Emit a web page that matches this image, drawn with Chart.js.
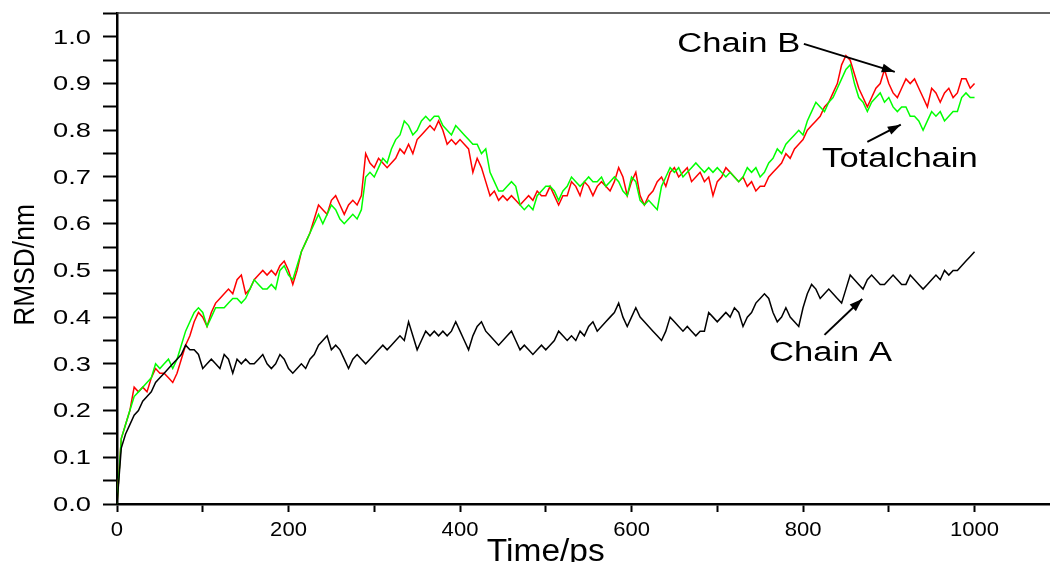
<!DOCTYPE html>
<html><head><meta charset="utf-8">
<script src="https://cdn.jsdelivr.net/npm/chart.js@4/dist/chart.umd.min.js"></script>
<style>html,body{margin:0;padding:0;background:#fff;overflow:hidden}#wrap{width:1050px;height:562px;position:relative}</style>
</head><body><div id="wrap"><canvas id="c" width="1050" height="562"></canvas></div>
<script>
const timePs = [
0,5,10,15,20,25,30,35,40,45,50,55,60,65,70,75,80,85,90,95,
100,105,110,115,120,125,130,135,140,145,150,155,160,165,170,175,180,185,190,195,
200,205,210,215,220,225,230,235,240,245,250,255,260,265,270,275,280,285,290,295,
300,305,310,315,320,325,330,335,340,345,350,355,360,365,370,375,380,385,390,395,
400,405,410,415,420,425,430,435,440,445,450,455,460,465,470,475,480,485,490,495,
500,505,510,515,520,525,530,535,540,545,550,555,560,565,570,575,580,585,590,595,
600,605,610,615,620,625,630,635,640,645,650,655,660,665,670,675,680,685,690,695,
700,705,710,715,720,725,730,735,740,745,750,755,760,765,770,775,780,785,790,795,
800,805,810,815,820,825,830,835,840,845,850,855,860,865,870,875,880,885,890,895,
900,905,910,915,920,925,930,935,940,945,950,955,960,965,970,975,980,985,990,995,
1000];
const chainA = [
0.00,0.12,0.15,0.17,0.19,0.20,0.22,0.23,0.24,0.26,0.27,0.28,0.29,0.30,0.31,0.32,0.34,0.33,0.33,0.32,
0.29,0.30,0.31,0.30,0.29,0.32,0.31,0.28,0.31,0.30,0.31,0.30,0.30,0.31,0.32,0.30,0.29,0.30,0.32,0.31,
0.29,0.28,0.29,0.30,0.29,0.31,0.32,0.34,0.35,0.36,0.33,0.34,0.33,0.31,0.29,0.31,0.32,0.31,0.30,0.31,
0.32,0.33,0.34,0.33,0.34,0.35,0.36,0.35,0.39,0.36,0.33,0.35,0.37,0.36,0.37,0.36,0.37,0.36,0.37,0.39,
0.37,0.35,0.33,0.36,0.38,0.39,0.37,0.36,0.35,0.34,0.35,0.36,0.37,0.35,0.33,0.34,0.33,0.32,0.33,0.34,
0.33,0.34,0.35,0.37,0.36,0.35,0.36,0.35,0.37,0.36,0.38,0.39,0.37,0.38,0.39,0.40,0.41,0.43,0.40,0.38,
0.40,0.42,0.40,0.39,0.38,0.37,0.36,0.35,0.37,0.40,0.39,0.38,0.37,0.38,0.37,0.36,0.37,0.37,0.41,0.40,
0.39,0.40,0.41,0.40,0.42,0.41,0.38,0.40,0.41,0.43,0.44,0.45,0.44,0.41,0.39,0.40,0.42,0.40,0.39,0.38,
0.42,0.45,0.47,0.46,0.44,0.45,0.46,0.45,0.44,0.43,0.46,0.49,0.48,0.47,0.46,0.48,0.49,0.48,0.47,0.47,
0.48,0.49,0.48,0.47,0.47,0.49,0.48,0.47,0.46,0.47,0.48,0.49,0.48,0.50,0.49,0.50,0.50,0.51,0.52,0.53,
0.54];
const chainB = [
0.00,0.14,0.17,0.20,0.25,0.24,0.25,0.24,0.27,0.29,0.28,0.28,0.27,0.26,0.28,0.31,0.34,0.36,0.39,0.41,
0.40,0.38,0.41,0.43,0.44,0.45,0.46,0.45,0.48,0.49,0.45,0.46,0.48,0.49,0.50,0.49,0.50,0.49,0.51,0.52,
0.50,0.47,0.50,0.54,0.56,0.58,0.61,0.64,0.63,0.62,0.65,0.66,0.64,0.62,0.64,0.65,0.64,0.66,0.75,0.73,
0.72,0.74,0.73,0.72,0.73,0.74,0.76,0.75,0.77,0.75,0.78,0.79,0.80,0.81,0.80,0.82,0.80,0.77,0.78,0.77,
0.78,0.77,0.76,0.71,0.74,0.72,0.69,0.66,0.67,0.65,0.66,0.65,0.66,0.65,0.64,0.65,0.66,0.65,0.67,0.66,
0.66,0.68,0.66,0.64,0.66,0.66,0.69,0.68,0.66,0.69,0.68,0.66,0.68,0.69,0.68,0.67,0.69,0.72,0.70,0.66,
0.69,0.71,0.66,0.64,0.66,0.67,0.69,0.70,0.68,0.71,0.72,0.70,0.71,0.72,0.69,0.70,0.71,0.69,0.70,0.66,
0.69,0.70,0.72,0.71,0.70,0.69,0.70,0.68,0.69,0.67,0.68,0.68,0.70,0.71,0.72,0.73,0.75,0.74,0.76,0.77,
0.78,0.80,0.81,0.82,0.83,0.85,0.86,0.88,0.90,0.94,0.96,0.95,0.92,0.89,0.87,0.85,0.87,0.89,0.90,0.93,
0.90,0.88,0.87,0.89,0.91,0.90,0.91,0.89,0.87,0.85,0.89,0.88,0.86,0.88,0.89,0.87,0.88,0.91,0.91,0.89,
0.90];
const totalChain = [
0.00,0.14,0.17,0.20,0.23,0.24,0.25,0.26,0.27,0.30,0.29,0.30,0.31,0.29,0.31,0.34,0.37,0.39,0.41,0.42,
0.41,0.38,0.40,0.42,0.42,0.42,0.43,0.44,0.44,0.43,0.44,0.46,0.48,0.47,0.46,0.46,0.47,0.46,0.50,0.51,
0.49,0.48,0.51,0.54,0.56,0.58,0.60,0.62,0.60,0.62,0.64,0.63,0.61,0.60,0.61,0.62,0.61,0.63,0.70,0.71,
0.70,0.72,0.74,0.73,0.76,0.78,0.79,0.82,0.81,0.79,0.80,0.82,0.83,0.82,0.83,0.83,0.81,0.80,0.79,0.81,
0.80,0.79,0.78,0.77,0.77,0.75,0.76,0.71,0.69,0.67,0.67,0.68,0.69,0.68,0.64,0.63,0.64,0.63,0.66,0.67,
0.68,0.68,0.67,0.65,0.67,0.68,0.70,0.69,0.68,0.69,0.70,0.69,0.69,0.70,0.68,0.69,0.70,0.69,0.67,0.66,
0.70,0.69,0.65,0.64,0.65,0.64,0.63,0.68,0.70,0.72,0.71,0.72,0.70,0.71,0.72,0.73,0.72,0.71,0.72,0.71,
0.72,0.71,0.70,0.71,0.70,0.69,0.70,0.72,0.71,0.72,0.70,0.71,0.73,0.74,0.76,0.75,0.77,0.78,0.79,0.80,
0.79,0.82,0.84,0.86,0.85,0.84,0.86,0.87,0.89,0.91,0.93,0.94,0.90,0.87,0.86,0.84,0.86,0.87,0.88,0.86,
0.87,0.85,0.84,0.85,0.85,0.83,0.83,0.82,0.80,0.82,0.84,0.83,0.84,0.82,0.83,0.84,0.84,0.87,0.88,0.87,
0.87];
const xTickValues = [0,100,200,300,400,500,600,700,800,900,1000];
const xTickLabels = ['0','','200','','400','','600','','800','','1000'];
const yTickValues = [0,0.05,0.1,0.15,0.2,0.25,0.3,0.35,0.4,0.45,0.5,0.55,0.6,0.65,0.7,0.75,0.8,0.85,0.9,0.95,1.0,1.05];
const yTickLabels = ['0.0','','0.1','','0.2','','0.3','','0.4','','0.5','','0.6','','0.7','','0.8','','0.9','','1.0',''];
const seriesNames = ['Chain A','Totalchain','Chain B'];
const xTitle = 'Time/ps';
const yTitle = 'RMSD/nm';
// annotation labels and arrows, in data units
const labelText = ['Chain B','Totalchain','Chain A'];
const labelAt = [[725,0.983],[913,0.738],[832,0.323]];
const arrowFrom = [[801,0.985],[875,0.775],[825,0.362]];
const arrowTo = [[907,0.925],[914,0.812],[869,0.439]];

function pts(arr){ return timePs.map((t,i)=>({x:t,y:arr[i]})); }

function stretchText(ctx, text, x, y, sx, align){
  ctx.save(); ctx.translate(x,y); ctx.scale(sx,1); ctx.textAlign=align; ctx.fillText(text,0,0); ctx.restore();
}
function arrow(ctx, x1,y1,x2,y2){
  ctx.beginPath(); ctx.moveTo(x1,y1); ctx.lineTo(x2,y2); ctx.stroke();
  const a=Math.atan2(y2-y1,x2-x1), L=13, W=4.5;
  ctx.beginPath();
  ctx.moveTo(x2,y2);
  ctx.lineTo(x2-L*Math.cos(a)+W*Math.sin(a), y2-L*Math.sin(a)-W*Math.cos(a));
  ctx.lineTo(x2-L*Math.cos(a)-W*Math.sin(a), y2-L*Math.sin(a)+W*Math.cos(a));
  ctx.closePath(); ctx.fill();
}

const overlay = {
  id:'overlay',
  afterDraw(chart){
    const {ctx, chartArea:ca, scales:{x,y}} = chart;
    ctx.save();
    ctx.strokeStyle='#333'; ctx.lineWidth=1.5;
    ctx.beginPath(); ctx.moveTo(ca.left, ca.top); ctx.lineTo(ca.right, ca.top); ctx.stroke();
    ctx.fillStyle='#000';
    ctx.font='21px "Liberation Sans", Arial, sans-serif'; ctx.textBaseline='middle';
    yTickValues.forEach((v,i)=>{ const lab=yTickLabels[i]; if(!lab) return; stretchText(ctx, lab, 91, y.getPixelForValue(v)+1, 1.3, 'right'); });
    ctx.font='21px "Liberation Sans", Arial, sans-serif';
    xTickValues.forEach((v,i)=>{ const lab=xTickLabels[i]; if(!lab) return; stretchText(ctx, lab, x.getPixelForValue(v), ca.bottom+26, 1.05, 'center'); });
    // axis titles
    ctx.textBaseline='alphabetic';
    ctx.font='31px "Liberation Sans", Arial, sans-serif';
    stretchText(ctx, xTitle, (x.getPixelForValue(0)+x.getPixelForValue(1000))/2, 561, 1.08, 'center');
    ctx.save(); ctx.translate(34, 265); ctx.rotate(-Math.PI/2); ctx.scale(0.88,1);
    ctx.font='30px "Liberation Sans", Arial, sans-serif';
    ctx.textAlign='center'; ctx.fillText(yTitle,0,0); ctx.restore();
    // annotations
    ctx.font='27px "Liberation Sans", Arial, sans-serif'; ctx.textBaseline='middle';
    labelText.forEach((t,i)=>{ stretchText(ctx, t, x.getPixelForValue(labelAt[i][0]), y.getPixelForValue(labelAt[i][1]), 1.28, 'center'); });
    ctx.strokeStyle='#000'; ctx.lineWidth=2;
    arrowFrom.forEach((f,i)=>{ arrow(ctx, x.getPixelForValue(f[0]), y.getPixelForValue(f[1]), x.getPixelForValue(arrowTo[i][0]), y.getPixelForValue(arrowTo[i][1])); });
    ctx.restore();
  }
};

new Chart(document.getElementById('c'), {
  type:'line',
  data:{ datasets:[
    {label:seriesNames[0], data:pts(chainA), borderColor:'#000000', borderWidth:1.5, pointRadius:0, tension:0},
    {label:seriesNames[1], data:pts(totalChain), borderColor:'#00ff00', borderWidth:1.5, pointRadius:0, tension:0},
    {label:seriesNames[2], data:pts(chainB), borderColor:'#ff0000', borderWidth:1.5, pointRadius:0, tension:0}
  ]},
  options:{
    responsive:false, animation:false, devicePixelRatio:1,
    layout:{padding:{top:13,right:0,bottom:0,left:0}},
    plugins:{legend:{display:false}, tooltip:{enabled:false}},
    scales:{
      x:{type:'linear', min:0, max:1088,
        afterBuildTicks:s=>{ s.ticks = xTickValues.map(v=>({value:v})); },
        afterFit:s=>{ s.height = 58; },
        border:{display:true,color:'#000',width:2.5},
        grid:{display:true, drawOnChartArea:false, drawTicks:true, tickLength:8, tickWidth:2, tickColor:'#000'},
        ticks:{autoSkip:false, maxRotation:0, callback:()=>''}
      },
      y:{type:'linear', min:0, max:1.051,
        afterBuildTicks:s=>{ s.ticks = yTickValues.map(v=>({value:v})); },
        afterFit:s=>{ s.width = 117; },
        border:{display:true,color:'#000',width:2.5},
        grid:{display:true, drawOnChartArea:false, drawTicks:true, tickLength:14, tickWidth:2, tickColor:'#000'},
        ticks:{autoSkip:false, callback:()=>''}
      }
    }
  },
  plugins:[overlay]
});
</script></body></html>
